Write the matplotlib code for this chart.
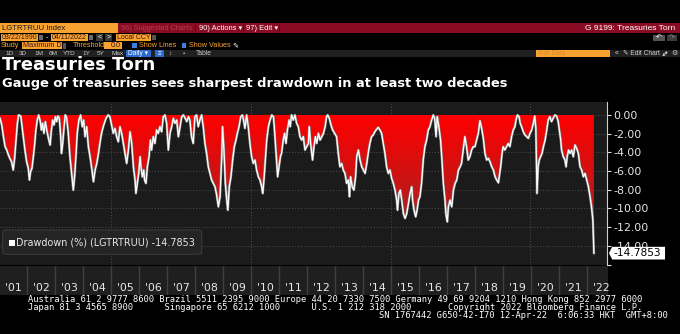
import matplotlib
matplotlib.use("Agg")
import matplotlib.pyplot as plt
import matplotlib.transforms as mtransforms
from matplotlib.colors import LinearSegmentedColormap
from matplotlib.patches import Polygon, Rectangle, FancyBboxPatch, FancyArrowPatch
import numpy as np

# ----

# Drawdown (%) of LGTRTRUU, decimal year vs. percent below running max.
dd_year = [
    2001.03, 2001.09, 2001.15, 2001.21, 2001.27, 2001.33, 2001.38, 2001.44, 2001.50, 2001.55,
    2001.60, 2001.65, 2001.69, 2001.77, 2001.81, 2001.86, 2001.92, 2001.98, 2002.04, 2002.08,
    2002.12, 2002.17, 2002.22, 2002.27, 2002.31, 2002.36, 2002.41, 2002.46, 2002.51, 2002.55,
    2002.60, 2002.65, 2002.70, 2002.76, 2002.82, 2002.86, 2002.91, 2002.96, 2003.01, 2003.05,
    2003.10, 2003.15, 2003.20, 2003.23, 2003.27, 2003.32, 2003.36, 2003.41, 2003.47, 2003.53,
    2003.59, 2003.65, 2003.70, 2003.75, 2003.79, 2003.85, 2003.91, 2003.97, 2004.02, 2004.07,
    2004.13, 2004.19, 2004.25, 2004.31, 2004.37, 2004.43, 2004.49, 2004.55, 2004.60, 2004.66,
    2004.72, 2004.82, 2004.90, 2004.96, 2005.02, 2005.08, 2005.14, 2005.20, 2005.26,
    2005.32, 2005.38, 2005.44, 2005.50, 2005.56, 2005.62, 2005.68, 2005.74, 2005.80, 2005.86,
    2005.89, 2005.94, 2005.99, 2006.04, 2006.07, 2006.12, 2006.17, 2006.20, 2006.25, 2006.30,
    2006.36, 2006.41, 2006.45, 2006.51, 2006.57, 2006.63, 2006.69, 2006.75, 2006.81, 2006.87,
    2006.93, 2006.99, 2007.05, 2007.11, 2007.17, 2007.23, 2007.29, 2007.35, 2007.41, 2007.47,
    2007.53, 2007.59, 2007.65, 2007.71, 2007.77, 2007.82, 2007.88, 2007.94, 2008.00, 2008.06,
    2008.12, 2008.18, 2008.24, 2008.30, 2008.36, 2008.42, 2008.48, 2008.54, 2008.60, 2008.66,
    2008.72, 2008.78, 2008.84, 2008.90, 2008.96, 2008.99, 2009.04, 2009.09, 2009.14, 2009.18,
    2009.23, 2009.29, 2009.35, 2009.41, 2009.47, 2009.52, 2009.58, 2009.64, 2009.70,
    2009.73, 2009.79, 2009.85, 2009.91, 2009.97, 2010.03, 2010.09, 2010.15, 2010.21, 2010.27,
    2010.33, 2010.39, 2010.43, 2010.47, 2010.52, 2010.57, 2010.63, 2010.69, 2010.75, 2010.81,
    2010.84, 2010.89, 2010.93, 2010.96, 2011.01, 2011.06, 2011.10, 2011.16, 2011.21, 2011.26,
    2011.31, 2011.37, 2011.41, 2011.46, 2011.52, 2011.58, 2011.64, 2011.70, 2011.76, 2011.82,
    2011.88, 2011.94, 2012.00, 2012.06, 2012.09, 2012.14, 2012.21, 2012.26, 2012.31, 2012.36,
    2012.42, 2012.48, 2012.54, 2012.60, 2012.66, 2012.71, 2012.75, 2012.81, 2012.87, 2012.93,
    2013.00, 2013.07, 2013.13, 2013.19, 2013.25, 2013.31, 2013.37, 2013.43, 2013.49, 2013.53,
    2013.57, 2013.63, 2013.69, 2013.75, 2013.79, 2013.85, 2013.91, 2013.97, 2014.03, 2014.09,
    2014.15, 2014.20, 2014.26, 2014.32, 2014.38, 2014.44, 2014.50, 2014.56, 2014.62, 2014.68,
    2014.74, 2014.80, 2014.86, 2014.92, 2014.98, 2015.04, 2015.10, 2015.16, 2015.22, 2015.25,
    2015.30, 2015.35, 2015.40, 2015.46, 2015.52, 2015.58, 2015.64, 2015.70, 2015.76, 2015.79,
    2015.84, 2015.90, 2015.95, 2016.00, 2016.05, 2016.11, 2016.17, 2016.23, 2016.29, 2016.35,
    2016.41, 2016.47, 2016.53, 2016.58, 2016.63, 2016.67, 2016.73, 2016.79, 2016.84, 2016.89,
    2016.95, 2016.98, 2017.03, 2017.07, 2017.13, 2017.19, 2017.25, 2017.31, 2017.37, 2017.43,
    2017.49, 2017.54, 2017.60, 2017.66, 2017.72, 2017.78, 2017.84, 2017.90, 2017.96, 2018.02,
    2018.08, 2018.14,
    2018.20, 2018.26, 2018.32, 2018.38, 2018.44, 2018.50, 2018.56, 2018.62, 2018.68, 2018.74,
    2018.80, 2018.86, 2018.89, 2018.94, 2018.99, 2019.03, 2019.09, 2019.15, 2019.21, 2019.27,
    2019.33, 2019.39, 2019.45, 2019.49, 2019.54, 2019.60, 2019.64, 2019.69, 2019.75, 2019.81,
    2019.87, 2019.93, 2019.99, 2020.05, 2020.11, 2020.16, 2020.20, 2020.24, 2020.28, 2020.32,
    2020.37, 2020.42, 2020.47, 2020.53, 2020.59, 2020.64, 2020.70, 2020.76, 2020.82, 2020.88,
    2020.94, 2021.00, 2021.04, 2021.09, 2021.12, 2021.18, 2021.24, 2021.28, 2021.32, 2021.37,
    2021.42, 2021.48, 2021.54, 2021.60, 2021.66, 2021.72, 2021.78, 2021.84, 2021.90, 2021.96,
    2022.02, 2022.08, 2022.14, 2022.19, 2022.24, 2022.277,
]

dd_value = [
    -0.36, -1.07, -2.32, -3.39, -3.75, -4.29, -4.64, -5.00, -5.89, -4.64,
    -2.68, -0.89, 0.00, -0.11, -1.07, -2.32, -3.75, -5.00, -5.71, -6.96,
    -6.07, -5.71, -4.46, -3.04, -1.61, -0.54, 0.00, -0.54, -1.61, -0.89,
    -1.96, -0.71, -1.61, -2.50, -3.21, -1.79, -0.54, -1.07, -0.18, -0.71,
    -0.11, -0.36, -2.32, -4.11, -3.04, -1.25, 0.00, -0.25, -1.96, -4.46,
    -6.25, -8.04, -6.43, -4.11, -1.96, -0.54, 0.00, -1.25, -0.54, -2.32,
    -1.25, -3.39, -4.46, -5.71, -7.14, -5.89, -5.18, -4.11, -3.04, -1.96,
    -1.25, -0.36, 0.00, -0.18, -1.07, -1.96, -1.43, -2.32, -2.86,
    -1.25, -1.96, -3.04, -4.11, -5.18, -3.75, -1.79, -3.04, -5.54, -6.96,
    -8.39, -7.32, -6.25, -4.46, -5.54, -6.61, -5.89, -6.96, -7.32, -5.54,
    -4.46, -2.68, -3.75, -2.32, -3.04, -1.61, -1.96, -1.25, -1.79, -0.18,
    0.00, -0.89, -3.75, -1.96, -1.25, -0.36, -0.89, -0.54, -2.32, -1.25,
    -0.18, 0.00, -0.36, -0.71, -0.18, -0.54, -2.32, -3.04, -0.18, 0.00,
    -1.25, -0.54, 0.00, -1.25, -3.04, -4.11, -5.54, -6.25, -6.96, -7.32,
    -7.68, -8.57, -9.82, -8.75, -4.46, -1.25, -3.75, -7.32, -9.11, -10.18,
    -7.68, -6.61, -4.82, -3.39, -2.68, -1.96, -1.25, -0.18, 0.00,
    -0.36, -1.43, 0.00, -1.25, -3.04, -4.46, -5.18, -4.82, -5.89, -6.61,
    -6.96, -7.68, -8.39, -6.96, -4.82, -2.68, -1.25, -0.54, 0.00, -0.18,
    -1.25, -3.39, -5.18, -6.61, -5.54, -4.46, -4.11, -2.68, -1.96, -3.04,
    -1.61, -0.54, -1.25, 0.00, -0.54, 0.00, -0.89, -1.25, -2.32, -2.68,
    -2.32, -3.75, -3.39, -3.04, -1.25, -3.04, -4.82, -3.39, -2.32, -3.04,
    -1.96, -2.68, -2.32, -1.96, -1.25, -0.18, 0.00, -0.36, -1.07, -1.61,
    -1.96, -2.32, -4.11, -5.54, -5.18, -5.89, -6.25, -7.32, -6.96, -8.75,
    -6.61, -7.68, -8.04, -6.61, -4.46, -3.75, -4.82, -5.54, -5.89, -6.25,
    -5.18, -4.11, -3.04, -2.32, -2.14, -1.79, -1.54, -1.32, -1.61, -1.96,
    -3.04, -4.11, -5.54, -6.25, -5.89, -6.79, -7.32, -8.04, -9.11, -10.18,
    -8.39, -8.04, -9.11, -10.54, -11.07, -10.54, -9.46, -8.39, -7.68, -9.11,
    -10.18, -10.89, -10.18, -9.11, -8.75, -7.32, -4.82, -3.39, -2.68, -1.61,
    -1.25, -0.54, 0.00, -0.36, -2.32, -0.18, -1.25, -2.68, -4.82, -7.32,
    -9.11, -10.54, -11.43, -9.82, -9.11, -9.82, -8.04, -7.32, -6.96, -5.89,
    -5.54, -5.18, -3.75, -2.32, -3.39, -4.82, -4.46, -3.75, -3.39, -3.39,
    -2.68, -1.96,
    -0.61, -1.43, -2.50, -4.11, -4.82, -4.64, -5.00, -5.54, -5.89, -6.61,
    -6.96, -7.25, -6.61, -5.54, -4.11, -3.39, -3.75, -3.39, -3.04, -3.39,
    -2.32, -1.61, -1.25, -0.54, 0.00, -0.18, -0.89, -1.25, -1.79, -2.14,
    -2.32, -2.50, -1.96, -1.61, -0.89, -0.11, -1.43, -8.39, -5.54, -4.82,
    -4.46, -4.11, -3.39, -2.68, -1.61, -0.54, -0.18, -0.71, -0.36, 0.00,
    -0.11, -0.71, -1.61, -2.68, -3.75, -4.46, -4.82, -5.54, -4.46, -3.75,
    -4.11, -3.75, -4.46, -3.21, -3.57, -4.11, -5.54, -5.89, -6.61, -6.25,
    -6.96, -7.68, -8.75, -9.82, -11.25, -14.7853,
]

year_labels = ["'01", "'02", "'03", "'04", "'05", "'06", "'07", "'08", "'09", "'10", "'11",
               "'12", "'13", "'14", "'15", "'16", "'17", "'18", "'19", "'20", "'21", "'22"]
first_year = 2001
ytick_values = [0, -2, -4, -6, -8, -10, -12, -14, -16]
last_value = dd_value[-1]

# ----

W, H = 680, 334
ORANGE = "#f8a230"
fig = plt.figure(figsize=(W / 100, H / 100), dpi=100, facecolor="black")


def fx(x):
    return x / W


def fy(y):
    return 1 - y / H


def px_rect(x0, y0, x1, y1, color, **kw):
    fig.add_artist(Rectangle((fx(x0), fy(y1)), (x1 - x0) / W, (y1 - y0) / H,
                             transform=fig.transFigure, facecolor=color,
                             edgecolor="none", **kw))


def px_text(x, y, s, color="white", size=5.3, ha="left", va="center",
            family=("Liberation Sans", "DejaVu Sans"), **kw):
    fig.text(fx(x), fy(y), s, color=color, fontsize=size, ha=ha, va=va,
             family=list(family), **kw)


# top toolbar rows
px_rect(0, 23.3, 680, 33.3, "#8a0c24")
px_rect(0, 23.3, 118, 33.3, ORANGE)
px_text(2, 28.4, "LGTRTRUU Index", color="#1a1a1a", size=5.6)
px_text(121, 28.4, "96) Suggested Charts", color="#b53a4c")
for xs in (195.5, 243, 279):
    px_rect(xs, 23.3, xs + 1, 33.3, "#5c0717")
px_text(199, 28.4, "90) Actions \u25be", size=5.4)
px_text(246, 28.4, "97) Edit \u25be", size=5.4)
px_text(675, 28.4, "G 9199: Treasuries Torn", ha="right", size=6)

px_rect(1, 34.3, 38, 40.7, ORANGE)
px_text(2, 37.6, "03/22/1990", color="#3a1010", size=5)
px_rect(39, 35, 43, 40, "#6a6a6a")
px_text(46, 37.5, "-", size=5)
px_rect(51, 34.3, 88, 40.7, ORANGE)
px_text(52, 37.6, "04/11/2022", color="#3a1010", size=5)
px_rect(89, 35, 93, 40, "#6a6a6a")
px_rect(96, 34.3, 103, 40.7, "#3a3a3a")
px_text(99.5, 37.5, "<", ha="center", size=5)
px_rect(105, 34.3, 112, 40.7, "#3a3a3a")
px_text(108.5, 37.5, ">", ha="center", size=5)
px_rect(116, 34.3, 151, 40.7, ORANGE)
px_text(117, 37.6, "Local CCY", color="#3a1010", size=5)
px_rect(152, 35, 156, 40, "#555555")
px_rect(653, 34.8, 665, 40.5, "#555555")
px_text(659, 37.6, "\u21b6", ha="center", size=5)
px_rect(667, 34.8, 677, 40.5, "#3c3c3c")
px_text(672, 37.6, "\u21b7", ha="center", size=5, color="#888888")

px_text(1, 45.9, "Study", color=ORANGE, size=5.2)
px_rect(22, 42.3, 62, 49.3, ORANGE)
px_text(23, 45.9, "Maximum Dr", color="#3a1010", size=5.2)
px_rect(63, 42.8, 66, 48.8, "#555555")
px_text(73, 45.9, "Threshold", color=ORANGE, size=5.2)
px_rect(104, 42.3, 122, 49.3, ORANGE)
px_text(121, 45.9, "0.0", color="#3a1010", size=5.2, ha="right")
px_rect(132, 43.4, 136.5, 47.9, "#3d7fe0")
px_text(139, 45.9, "Show Lines", color=ORANGE, size=5.2)
px_rect(182, 43.4, 186.5, 47.9, "#3d7fe0")
px_text(189, 45.9, "Show Values", color=ORANGE, size=5.2)
px_text(232, 45.9, "\u270e", size=5.2)

px_rect(0, 50, 680, 57.3, "#202020")
for xs, lab in zip((5, 19.3, 34.3, 49, 63.3, 82.3, 96.7, 111),
                   ("1D", "3D", "1M", "6M", "YTD", "1Y", "5Y", "Max")):
    px_text(xs, 53.8, lab, color="#c8c8c8", size=4.6)
px_rect(126, 50.5, 151, 57, "#2b6ad0")
px_text(128, 53.8, "Daily \u25be", size=4.8)
px_rect(155, 50.5, 164, 57, "#2b6ad0")
px_text(159.5, 53.8, "\u2261", ha="center", size=4.6)
px_text(168, 53.8, "\u2195", color="#c8c8c8", size=4.6)
px_text(183, 53.8, "\u2022", color="#c8c8c8", size=4.6)
px_text(196, 53.8, "Table", color="#c8c8c8", size=4.8)
px_rect(536, 50.3, 610, 57, ORANGE)
px_text(538, 53.8, "Add Data", color="#d98a2a", size=4.8)
px_text(615, 53.8, "\u00ab", color="#d0d0d0", size=5)
px_text(623, 53.8, "\u270e Edit Chart", color="#d0d0d0", size=4.8)
# expand icon, drawn as a small double-headed arrow
fig.add_artist(FancyArrowPatch((fx(662.5), fy(56)), (fx(667.5), fy(51.5)),
                               arrowstyle="<->,head_length=1.2,head_width=0.8",
                               transform=fig.transFigure, color="#d0d0d0",
                               lw=0.6, shrinkA=0, shrinkB=0))
px_text(671, 53.8, "\u2699", color="#d0d0d0", size=5)

# headline
fig.text(fx(2), fy(70), "Treasuries Torn", fontsize=12.8, weight="bold",
         color="white", va="baseline", family="DejaVu Sans")
fig.text(fx(2), fy(86.5),
         "Gauge of treasuries sees sharpest drawdown in at least two decades",
         fontsize=9.4, weight="bold", color="white", va="baseline",
         family="DejaVu Sans")

# ----

x_lo, x_hi = 2001.027, 2022.745
ax = fig.add_axes([0, fy(264.5), fx(607), (264.5 - 102) / H])
ax.set_facecolor("#1b1b1b")

for v in ytick_values:
    ax.axhline(v, color="#4e4e4e", lw=0.7, ls=(0, (1, 2)), zorder=0.5)
for yr in (2005, 2010, 2015, 2020):
    ax.axvline(yr, color="#4e4e4e", lw=0.7, ls=(0, (1, 2)), zorder=0.5)

# red gradient under the zero line, clipped to the drawdown area
verts = np.column_stack([np.r_[dd_year[0], dd_year, dd_year[-1]],
                         np.r_[0.0, dd_value, 0.0]])
clip = Polygon(verts, closed=True, facecolor="none", edgecolor="none")
ax.add_patch(clip)
reds = LinearSegmentedColormap.from_list("dd", ["#902a2a", "#ff0000"])
grad = np.linspace(0, 1, 256).reshape(-1, 1)
im = ax.imshow(grad, extent=[x_lo, x_hi, -15, 0], origin="lower",
               aspect="auto", cmap=reds, interpolation="bilinear", zorder=1)
im.set_clip_path(clip)

ax.plot(dd_year, dd_value, color="#8a8a8a", lw=1.7, zorder=2)
ax.plot(dd_year, dd_value, color="white", lw=0.9, zorder=3)

ax.set_xlim(x_lo, x_hi)
ax.set_ylim(-16, 1.39)
ax.set_xticks([])
ax.yaxis.tick_right()
ax.set_yticks(ytick_values)
ax.set_yticklabels([f"{float(v):.2f}" if v > -16 else "" for v in ytick_values])
ax.tick_params(axis="y", colors="#dcdcdc", labelcolor="#e6e6e6", length=3,
               width=0.8, pad=1.5, labelsize=7.9)
for s in ("top", "left", "bottom"):
    ax.spines[s].set_visible(False)
ax.spines["right"].set_color("#cfcfcf")
ax.spines["right"].set_linewidth(0.8)

# last value tag on the axis
tag_tf = mtransforms.blended_transform_factory(ax.transAxes, ax.transData)
h = 0.68
ax.add_patch(Polygon([(1.0033, last_value), (1.0085, last_value + h),
                      (1.0956, last_value + h), (1.0956, last_value - h),
                      (1.0085, last_value - h)], closed=True, transform=tag_tf,
                     facecolor="white", edgecolor="none", clip_on=False, zorder=5))
ax.text(1.0105, last_value, f"{last_value:.4f}", transform=tag_tf, color="black",
        fontsize=7.7, va="center", ha="left", zorder=6, clip_on=False)

# legend box
fig.add_artist(FancyBboxPatch((fx(2.7), fy(254.3)), (201.7 - 2.7) / W, (254.3 - 230) / H,
                              boxstyle="round,pad=0,rounding_size=0.006",
                              transform=fig.transFigure, facecolor="#242424",
                              edgecolor="#3a3a3a", lw=0.8))
px_rect(8.7, 239.5, 14.7, 245.5, "white")
px_text(16.3, 242.3, f"Drawdown (%) (LGTRTRUU) {last_value:.4f}", color="#e8e8e8",
        size=6.9, family=("DejaVu Sans",))

# year strip below the plot
ax_x = fig.add_axes([0, fy(295), fx(608), (295 - 266) / H])
ax_x.set_facecolor("#1f1f1f")
ax_x.set_xlim(x_lo, x_hi)
ax_x.set_ylim(0, 1)
ax_x.set_xticks([])
ax_x.set_yticks([])
for s in ax_x.spines.values():
    s.set_visible(False)
for i, lab in enumerate(year_labels):
    yr = first_year + i
    if i > 0:
        ax_x.axvline(yr, color="#3f3f3f", lw=1.0)
    ax_x.text(yr + 0.5, 0.25, lab, ha="center", va="center", color="#e8e8e8",
              fontsize=7.9)

# footer
foot1 = ("Australia 61 2 9777 8600 Brazil 5511 2395 9000 Europe 44 20 7330 7500 "
         "Germany 49 69 9204 1210 Hong Kong 852 2977 6000")
foot2 = ("Japan 81 3 4565 8900".ljust(26) + "Singapore 65 6212 1000".ljust(28)
         + "U.S. 1 212 318 2000".ljust(26) + "Copyright 2022 Bloomberg Finance L.P.")
foot3 = "SN 1767442 G650-42-170 12-Apr-22  6:06:33 HKT  GMT+8:00"
mono = ("DejaVu Sans Mono",)
px_text(28.3, 299.2, foot1, size=6.35, family=mono)
px_text(28.3, 307.2, foot2, size=6.35, family=mono)
px_text(379, 315.0, foot3, size=6.35, family=mono)

fig.savefig("out.png", dpi=100, facecolor="black")
